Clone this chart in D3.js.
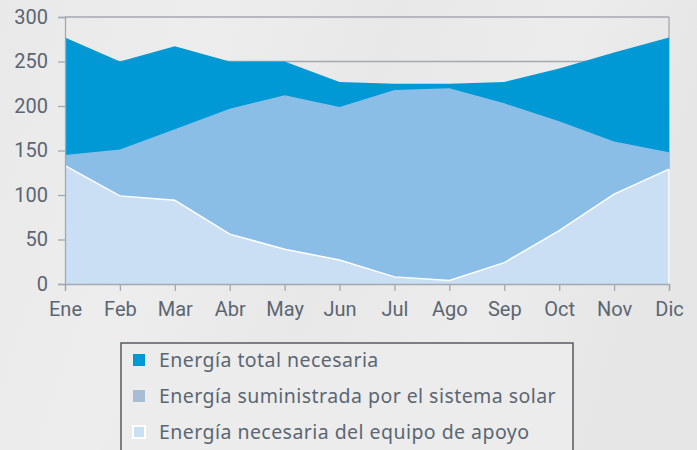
<!DOCTYPE html>
<html>
<head>
<meta charset="utf-8">
<script src="https://cdn.jsdelivr.net/npm/d3@7"></script>
<style>
  html, body { margin: 0; padding: 0; }
  body { width: 697px; height: 450px; overflow: hidden; background: #ebebeb; }
  text { font-family: Roboto, "Noto Sans", sans-serif; fill: #5b6672; }
</style>
</head>
<body>
<div id="chart"></div>
<script>
// monthly energy demand
var months = ["Ene", "Feb", "Mar", "Abr", "May", "Jun", "Jul", "Ago", "Sep", "Oct", "Nov", "Dic"];
var totalNeeded = [277, 250, 267, 250, 250, 227, 225, 225, 227, 242, 260, 277];
var solarSupplied = [145, 151, 174, 197, 212, 199, 218, 220, 203, 183, 160, 148];
var backupNeeded = [133, 99, 94, 56, 39, 27, 8, 4, 24, 60, 101, 129];
var yTicks = [0, 50, 100, 150, 200, 250, 300];

var legendNames = ["Energía total necesaria", "Energía suministrada por el sistema solar", "Energía necesaria del equipo de apoyo"];

var svgWidth = 697;
var svgHeight = 450;
var margin = { top: 17, right: 28, bottom: 166, left: 65 };
var width = svgWidth - margin.left - margin.right;
var height = svgHeight - margin.top - margin.bottom;

var svg = d3.select("#chart")
  .append("svg")
  .attr("width", svgWidth)
  .attr("height", svgHeight);

// soft background with lighter diagonal bands
var defs = svg.append("defs");
var grad = defs.append("linearGradient")
  .attr("id", "bg")
  .attr("x1", "0%").attr("y1", "0%")
  .attr("x2", "100%").attr("y2", "20%");
[["0%", "#e9e9e9"], ["30%", "#ededed"], ["55%", "#e8e8e8"], ["80%", "#ececec"], ["100%", "#e6e6e6"]]
  .forEach(function(s) { grad.append("stop").attr("offset", s[0]).attr("stop-color", s[1]); });
svg.append("rect").attr("width", svgWidth).attr("height", svgHeight).attr("fill", "url(#bg)");

var chart = svg.append("g")
  .attr("transform", "translate(" + margin.left + "," + margin.top + ")");

var x = d3.scalePoint().domain(months).range([0, width]);
var y = d3.scaleLinear().domain([0, 300]).range([height, 0]);

// gridlines (behind the areas)
chart.append("g")
  .selectAll("line")
  .data(yTicks.slice(1))
  .enter().append("line")
  .attr("x1", 0).attr("x2", width)
  .attr("y1", function(d) { return y(d); })
  .attr("y2", function(d) { return y(d); })
  .attr("stroke", "#a3a9b1")
  .attr("stroke-width", 1.3);

chart.append("line")
  .attr("x1", width).attr("x2", width)
  .attr("y1", 0).attr("y2", height)
  .attr("stroke", "#a3a9b1")
  .attr("stroke-width", 1.3);

function areaFor(values) {
  return d3.area()
    .x(function(d, i) { return x(months[i]); })
    .y0(height)
    .y1(function(d) { return y(d); })(values);
}

chart.append("path").attr("d", areaFor(totalNeeded)).attr("fill", "#0099d6");
chart.append("path").attr("d", areaFor(solarSupplied)).attr("fill", "#8bbee6");
chart.append("path").attr("d", areaFor(backupNeeded)).attr("fill", "#cbdff4");

chart.append("path")
  .attr("d", d3.line()
    .x(function(d, i) { return x(months[i]); })
    .y(function(d) { return y(d); })(backupNeeded))
  .attr("fill", "none")
  .attr("stroke", "#ffffff")
  .attr("stroke-width", 1.5);

chart.append("line")
  .attr("x1", width).attr("x2", width)
  .attr("y1", y(backupNeeded[11])).attr("y2", height)
  .attr("stroke", "#ffffff")
  .attr("stroke-width", 1.5);

// axes
var leftAxis = d3.axisLeft(y).tickValues(yTicks).tickSize(7).tickPadding(10);
var bottomAxis = d3.axisBottom(x).tickSize(7).tickPadding(11);

var gy = chart.append("g").call(leftAxis);
var gx = chart.append("g").attr("transform", "translate(0," + height + ")").call(bottomAxis);

[gy, gx].forEach(function(g) {
  g.selectAll(".domain").attr("stroke", "#a3a9b1").attr("stroke-width", 1.3);
  g.selectAll(".tick line").attr("stroke", "#a3a9b1").attr("stroke-width", 1.3);
  g.selectAll("text")
    .attr("fill", "#5b6672")
    .style("font-family", "Roboto, 'Noto Sans', sans-serif")
    .style("font-size", "20px");
});

// legend
var legend = svg.append("g").attr("transform", "translate(121,343)");
legend.append("rect")
  .attr("width", 452).attr("height", 120)
  .attr("fill", "#ececec")
  .attr("stroke", "#555a60")
  .attr("stroke-width", 1.5);

var legendColors = ["#0099d6", "#a9bcd6", "#cbdff4"];
var rows = legend.selectAll(".row")
  .data(legendNames)
  .enter().append("g")
  .attr("class", "row")
  .attr("transform", function(d, i) { return "translate(0," + (17 + i * 36) + ")"; });

rows.append("rect")
  .attr("x", 12).attr("y", -6)
  .attr("width", 12).attr("height", 12)
  .attr("fill", function(d, i) { return legendColors[i]; })
  .attr("stroke", function(d, i) { return i === 2 ? "#ffffff" : "none"; })
  .attr("stroke-width", 2);

rows.append("text")
  .attr("x", 38)
  .attr("dy", "0.35em")
  .style("font-family", "'Noto Sans', sans-serif")
  .style("font-size", "19.5px")
  .style("letter-spacing", "0.45px")
  .text(function(d) { return d; });
</script>
</body>
</html>
